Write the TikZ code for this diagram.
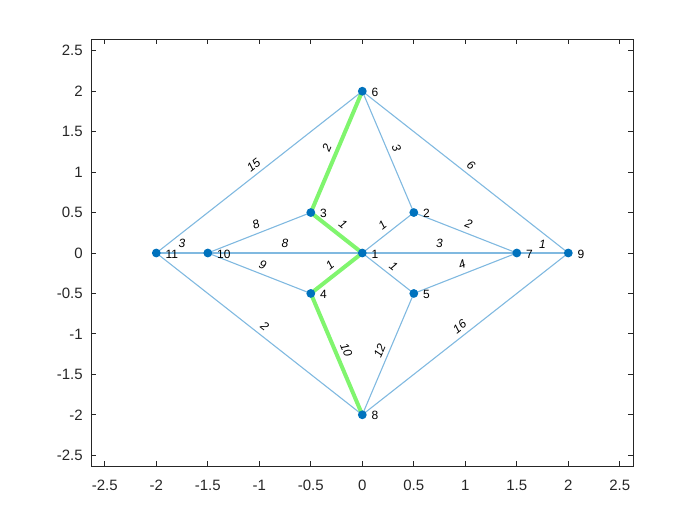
\documentclass[tikz,border=0pt]{standalone}
\usepackage{fontspec}
\setmainfont{Liberation Sans}
\definecolor{edgeblue}{RGB}{128,185,224}
\definecolor{pathgreen}{RGB}{128,245,110}
\definecolor{markblue}{RGB}{0,114,189}
\definecolor{axisgray}{RGB}{38,38,38}
\begin{document}
\begin{tikzpicture}[x=51.5pt,y=40.45pt,
  edge/.style={draw=edgeblue,line width=0.55pt},
  hl/.style={draw=pathgreen,line width=2pt},
  wlabel/.style={sloped,above,inner xsep=0pt,inner ysep=2.2pt,font=\fontsize{6}{7}\selectfont\itshape,text=black},
  vertex/.style={circle,fill=markblue,inner sep=0pt,minimum size=4.4pt},
  vlabel/.style={anchor=west,inner sep=0pt,font=\fontsize{6}{7}\selectfont,text=black},
  ticklab/.style={inner sep=0pt,font=\fontsize{7.5}{9}\selectfont,text=axisgray}]
\useasboundingbox (-3.5175,-3.3622) rectangle (3.2786,3.1273);
% axes
\draw[axisgray,line width=0.5pt] (-2.63,-2.633) rectangle (2.631,2.6415);
\foreach \v [count=\i] in {-2.5,-2,-1.5,-1,-0.5,0,0.5,1,1.5,2,2.5} {
  \draw[axisgray,line width=0.5pt] (\v,-2.633) -- ++(0pt,2.5pt);
  \draw[axisgray,line width=0.5pt] (\v,2.6415) -- ++(0pt,-2.5pt);
  \draw[axisgray,line width=0.5pt] (-2.63,\v) -- ++(2.5pt,0pt);
  \draw[axisgray,line width=0.5pt] (2.631,\v) -- ++(-2.5pt,0pt);
  \node[ticklab,anchor=north] (xt\i) at ([yshift=-7pt]\v,-2.633) {\v};
  \node[ticklab,anchor=east] (yt\i) at ([xshift=-4.2pt]-2.63,\v) {\v};
}
% graph coordinates
\coordinate (n1) at (0,0);
\coordinate (n2) at (0.5,0.5);
\coordinate (n3) at (-0.5,0.5);
\coordinate (n4) at (-0.5,-0.5);
\coordinate (n5) at (0.5,-0.5);
\coordinate (n6) at (0,2);
\coordinate (n7) at (1.5,0);
\coordinate (n8) at (0,-2);
\coordinate (n9) at (2,0);
\coordinate (n10) at (-1.5,0);
\coordinate (n11) at (-2,0);
% edges
\draw[edge] (n1) -- node[wlabel] (w12) {1} (n2);
\draw[edge] (n1) -- node[wlabel] (w15) {1} (n5);
\draw[edge] (n1) -- node[wlabel] (w17) {3} (n7);
\draw[edge] (n10) -- node[wlabel] (w101) {8} (n1);
\draw[edge] (n6) -- node[wlabel] (w62) {3} (n2);
\draw[edge] (n2) -- node[wlabel] (w27) {2} (n7);
\draw[edge] (n10) -- node[wlabel] (w103) {8} (n3);
\draw[edge] (n10) -- node[wlabel] (w104) {9} (n4);
\draw[edge] (n5) -- node[wlabel] (w57) {4} (n7);
\draw[edge] (n8) -- node[wlabel] (w85) {12} (n5);
\draw[edge] (n6) -- node[wlabel] (w69) {6} (n9);
\draw[edge] (n11) -- node[wlabel] (w116) {15} (n6);
\draw[edge] (n7) -- node[wlabel] (w79) {1} (n9);
\draw[edge] (n8) -- node[wlabel] (w89) {16} (n9);
\draw[edge] (n11) -- node[wlabel] (w118) {2} (n8);
\draw[edge] (n11) -- node[wlabel] (w1110) {3} (n10);
% highlighted path
\draw[hl] (n3) -- node[wlabel] (w31) {1} (n1);
\draw[hl] (n4) -- node[wlabel] (w41) {1} (n1);
\draw[hl] (n3) -- node[wlabel] (w36) {2} (n6);
\draw[hl] (n4) -- node[wlabel] (w48) {10} (n8);
% vertices
\foreach \k in {1,...,11} {
  \node[vertex] (v\k) at (n\k) {};
  \node[vlabel] (l\k) at ([xshift=4.5pt,yshift=-0.5pt]n\k) {\k};
}
\end{tikzpicture}
\end{document}
